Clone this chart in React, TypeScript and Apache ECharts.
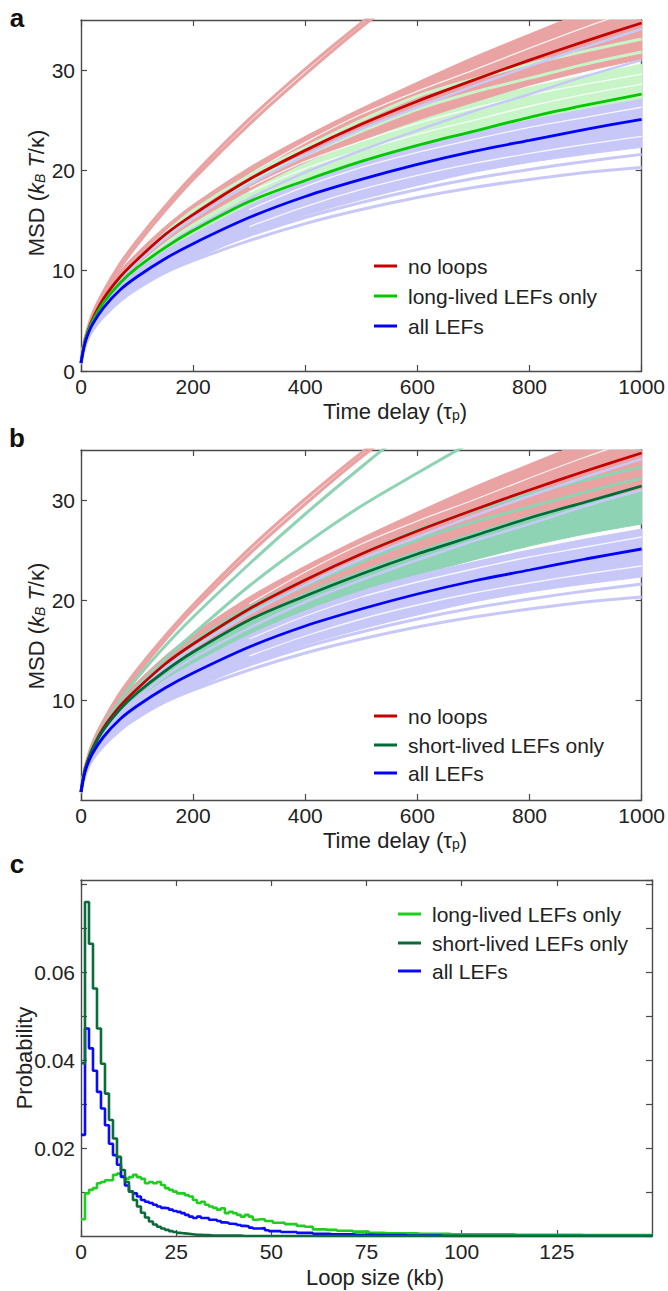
import React, { useEffect, useRef } from "react";
import * as echarts from "echarts";

// ---------- Panels a & b : MSD vs time delay ----------
const DELAY = [0, 5, 10, 20, 40, 70, 100, 150, 200, 300, 400, 500, 600, 700, 800, 900, 1000];

const NO_LOOPS_MEAN = [0.8, 2.5, 3.6, 5.1, 7.2, 9.4, 11.1, 13.6, 15.6, 19.1, 22.0, 24.6, 26.9, 29.0, 31.0, 32.9, 34.7];
const LONG_MEAN = [0.8, 2.4, 3.5, 4.9, 6.8, 8.8, 10.3, 12.3, 14.0, 16.9, 19.0, 20.9, 22.5, 23.9, 25.3, 26.5, 27.6];
const ALL_MEAN = [0.8, 2.3, 3.3, 4.6, 6.3, 8.1, 9.4, 11.2, 12.7, 15.3, 17.4, 19.1, 20.6, 21.9, 23.0, 24.1, 25.1];
const SHORT_MEAN = [0.8, 2.5, 3.5, 5.0, 7.0, 9.1, 10.7, 12.9, 14.8, 18.0, 20.4, 22.6, 24.6, 26.4, 28.2, 29.8, 31.4];

// ensemble envelopes (individual runs)
const NO_LOOPS_LOW = [0.8, 2.4, 3.4, 4.9, 6.9, 9.0, 10.6, 12.9, 14.8, 18.0, 20.8, 23.0, 25.0, 26.8, 28.5, 29.9, 31.1];
const NO_LOOPS_HIGH = [0.9, 2.7, 3.9, 5.5, 7.7, 10.0, 11.8, 14.4, 16.6, 20.3, 23.4, 26.2, 28.8, 31.3, 33.6, 35.8, 37.5];
const LONG_LOW = [0.8, 2.3, 3.3, 4.7, 6.5, 8.5, 9.9, 11.8, 13.3, 15.9, 18.0, 19.8, 21.2, 22.5, 23.6, 24.6, 25.5];
const LONG_HIGH = [0.9, 2.6, 3.7, 5.2, 7.2, 9.3, 11.0, 13.3, 15.3, 18.6, 21.5, 23.6, 25.5, 27.0, 28.3, 29.5, 30.6];
const ALL_LOW = [0.7, 2.1, 3.0, 4.1, 5.6, 7.1, 8.3, 9.9, 11.1, 13.5, 15.5, 17.1, 18.5, 19.8, 20.8, 21.6, 22.3];
const ALL_HIGH = [0.9, 2.5, 3.5, 4.8, 6.7, 8.6, 10.0, 12.0, 13.6, 16.5, 18.9, 20.9, 22.5, 23.8, 25.0, 26.1, 27.1];
const SHORT_LOW = [0.8, 2.4, 3.4, 4.8, 6.7, 8.6, 10.0, 12.0, 13.6, 16.4, 18.9, 20.8, 22.5, 24.0, 25.4, 26.6, 27.6];
const SHORT_HIGH = [0.9, 2.6, 3.7, 5.2, 7.3, 9.5, 11.2, 13.5, 15.5, 18.9, 21.7, 24.2, 26.4, 28.4, 30.3, 32.0, 33.4];

// white gaps between neighbouring runs inside the ensembles (late times)
const GAP_DELAY = [300, 400, 500, 600, 700, 800, 900, 1000];
const LONG_GAP1 = [17.8, 20.2, 22.0, 23.6, 25.0, 26.4, 27.6, 28.6];
const LONG_GAP2 = [18.3, 20.9, 22.9, 24.7, 26.2, 27.5, 28.6, 29.6];
const ALL_GAP1 = [14.4, 16.4, 18.1, 19.5, 20.7, 21.7, 22.6, 23.4];
const ALL_GAP2 = [16.1, 18.4, 20.3, 21.8, 23.1, 24.3, 25.3, 26.3];
const NO_LOOPS_GAP = [19.6, 22.8, 25.6, 27.9, 30.0, 32.2, 34.3, 36.2];

// outlying individual runs
const NO_LOOPS_RUN1 = [0.8, 2.6, 3.7, 5.4, 7.6, 10.3, 12.6, 16.0, 19.1, 24.6, 29.6, 34.3, 38.5, 42.5, 46.0, 50.0, 53.0];
const NO_LOOPS_RUN2 = [0.8, 2.7, 3.8, 5.6, 7.9, 10.7, 13.0, 16.4, 19.5, 25.1, 30.1, 34.7, 39.0, 43.0, 46.5, 50.5, 53.5];
const LONG_RUN1 = [0.8, 2.5, 3.5, 5.0, 7.0, 9.2, 10.9, 13.4, 15.6, 18.9, 21.5, 23.9, 26.1, 27.8, 29.2, 30.6, 31.8];
const LONG_RUN2 = [0.8, 2.5, 3.6, 5.1, 7.1, 9.4, 11.1, 13.7, 16.0, 19.5, 22.3, 25.0, 27.4, 29.1, 30.6, 31.9, 33.1];
const ALL_RUN_LOW1 = [0.7, 2.0, 2.9, 4.0, 5.4, 7.0, 8.2, 9.8, 11.0, 13.0, 14.7, 16.1, 17.3, 18.3, 19.1, 19.8, 20.3];
const ALL_RUN_LOW2 = [0.7, 2.1, 3.0, 4.1, 5.6, 7.2, 8.4, 10.1, 11.4, 13.5, 15.3, 16.8, 18.1, 19.2, 20.1, 20.9, 21.6];
const ALL_RUN_HIGH1 = [0.8, 2.5, 3.5, 5.0, 7.0, 9.1, 10.8, 13.2, 15.2, 18.6, 21.5, 24.1, 26.3, 28.4, 30.4, 32.3, 34.1];
const ALL_RUN_HIGH2 = [0.8, 2.4, 3.4, 4.8, 6.7, 8.7, 10.2, 12.4, 14.2, 17.2, 19.8, 22.0, 24.0, 25.9, 27.6, 29.4, 31.0];
const SHORT_RUN1 = [0.8, 2.6, 3.7, 5.3, 7.4, 10.0, 12.2, 15.4, 18.3, 23.6, 28.6, 33.3, 37.8, 42.0, 46.0, 50.0, 54.0];
const SHORT_RUN2 = [0.8, 2.5, 3.6, 5.1, 7.1, 9.4, 11.3, 14.1, 16.6, 21.4, 25.6, 29.4, 32.7, 35.9, 39.0, 42.0, 45.0];
const SHORT_RUN3 = [0.8, 2.5, 3.6, 5.1, 7.1, 9.3, 11.0, 13.5, 15.8, 19.3, 22.0, 24.6, 27.0, 28.9, 30.6, 32.0, 33.3];
const SHORT_RUN4 = [0.8, 2.5, 3.5, 5.0, 7.0, 9.2, 10.8, 13.2, 15.5, 18.8, 21.4, 23.8, 26.0, 27.8, 29.3, 30.8, 32.2];

// ---------- Panel c : loop size histograms ----------
const BIN_WIDTH_KB = 1.05;
const LONG_HIST = [
  0.0038, 0.0097, 0.0105, 0.0109, 0.0120, 0.0123, 0.0127, 0.0127, 0.0139, 0.0142,
  0.0134, 0.0130, 0.0134, 0.0139, 0.0134, 0.0130, 0.0120, 0.0123, 0.0120, 0.0123,
  0.0116, 0.0109, 0.0105, 0.0101, 0.0097, 0.0097, 0.0093, 0.0090, 0.0082, 0.0075,
  0.0078, 0.0071, 0.0067, 0.0064, 0.0060, 0.0063, 0.0052, 0.0055, 0.0052, 0.0048,
  0.0044, 0.0048, 0.0044, 0.0037, 0.0038, 0.0038, 0.0034, 0.0034, 0.0030, 0.0030,
  0.0030, 0.0027, 0.0027, 0.0027, 0.0023, 0.0023, 0.0021, 0.0021, 0.0015, 0.0015,
  0.0015, 0.0014, 0.0014, 0.0014, 0.0012, 0.0012, 0.0012, 0.0012, 0.0010, 0.0010,
  0.0010, 0.0010, 0.0007, 0.0007, 0.0007, 0.0007, 0.0006, 0.0006, 0.0006, 0.0006,
  0.0006, 0.0006, 0.0006, 0.0006, 0.0005, 0.0005, 0.0005, 0.0005, 0.0005, 0.0005,
  0.0005, 0.0005, 0.0004, 0.0004, 0.0004, 0.0004, 0.0004, 0.0004, 0.0004, 0.0004,
  0.0004, 0.0004, 0.0004, 0.0004, 0.0004, 0.0004, 0.0004, 0.0004, 0.0003, 0.0003,
  0.0003, 0.0003, 0.0003, 0.0003, 0.0003, 0.0003, 0.0003, 0.0003, 0.0003, 0.0003,
  0.0003, 0.0003, 0.0003, 0.0003, 0.0003, 0.0002, 0.0002, 0.0002, 0.0002, 0.0002,
  0.0002, 0.0002, 0.0002, 0.0002, 0.0002, 0.0002, 0.0002, 0.0002, 0.0002, 0.0002,
  0.0002, 0.0002, 0.0002,
];
const SHORT_HIST = [
  0.0393, 0.0760, 0.0665, 0.0563, 0.0472, 0.0392, 0.0324, 0.0264, 0.0222, 0.0180,
  0.0150, 0.0123, 0.0101, 0.0082, 0.0067, 0.0053, 0.0042, 0.0033, 0.0026, 0.0021,
  0.0017, 0.0014, 0.0011, 0.0009, 0.0007, 0.0006, 0.0005, 0.0004, 0.0003, 0.0003,
  0.0002, 0.0002, 0.0001, 0.0001, 0.0001, 0.0001, 0.0001, 0.0001, 0.0001, 0.0001,
  0, 0, 0, 0, 0, 0, 0, 0, 0, 0,
  0, 0, 0, 0, 0, 0, 0, 0, 0, 0,
  0, 0, 0, 0, 0, 0, 0, 0, 0, 0,
  0, 0, 0, 0, 0, 0, 0, 0, 0, 0,
  0, 0, 0, 0, 0, 0, 0, 0, 0, 0,
  0, 0, 0, 0, 0, 0, 0, 0, 0, 0,
  0, 0, 0, 0, 0, 0, 0, 0, 0, 0,
  0, 0, 0, 0, 0, 0, 0, 0, 0, 0,
  0, 0, 0, 0, 0, 0, 0, 0, 0, 0,
  0, 0, 0, 0, 0, 0, 0, 0, 0, 0,
  0, 0, 0,
];
const ALL_HIST = [
  0.0230, 0.0472, 0.0427, 0.0376, 0.0328, 0.0290, 0.0252, 0.0210, 0.0184, 0.0162,
  0.0135, 0.0115, 0.0101, 0.0097, 0.0090, 0.0082, 0.0078, 0.0075, 0.0071, 0.0067,
  0.0064, 0.0063, 0.0060, 0.0057, 0.0055, 0.0052, 0.0048, 0.0044, 0.0041, 0.0044,
  0.0041, 0.0041, 0.0037, 0.0037, 0.0034, 0.0031, 0.0030, 0.0028, 0.0027, 0.0025,
  0.0023, 0.0022, 0.0019, 0.0017, 0.0017, 0.0018, 0.0013, 0.0011, 0.0011, 0.0011,
  0.0009, 0.0009, 0.0009, 0.0009, 0.0007, 0.0007, 0.0007, 0.0007, 0.0005, 0.0005,
  0.0005, 0.0005, 0.0004, 0.0004, 0.0004, 0.0004, 0.0004, 0.0004, 0.0003, 0.0003,
  0.0003, 0.0003, 0.0003, 0.0002, 0.0002, 0.0002, 0.0002, 0.0002, 0.0002, 0.0002,
  0.0002, 0.0001, 0.0001, 0.0001, 0.0001, 0.0001, 0.0001, 0.0001, 0.0001, 0.0001,
  0, 0, 0, 0, 0, 0, 0, 0, 0, 0,
  0, 0, 0, 0, 0, 0, 0, 0, 0, 0,
  0, 0, 0, 0, 0, 0, 0, 0, 0, 0,
  0, 0, 0, 0, 0, 0, 0, 0, 0, 0,
  0, 0, 0, 0, 0, 0, 0, 0, 0, 0,
  0, 0, 0,
];

// ---------- styling ----------
const FONT = "'Liberation Sans', Arial, Helvetica, sans-serif";
const AXIS = "#4a4a4a";
const C_RED = "#c40000";
const C_GREEN = "#00c800";
const C_BLUE = "#0000ff";
const C_DKGREEN = "#006b38";
const C_RED_L = "#eaa3a3";
const C_GREEN_L = "#c8f5c8";
const C_BLUE_L = "#c8c8f8";
const C_TEAL_L = "#8ed3b3";
const H_GREEN = "#1fcc1f";
const H_DKGREEN = "#0b6b3a";
const H_BLUE = "#0a0aff";

function curve(g: number, xs: number[], ys: number[], color: string, width: number, z: number, opacity = 1) {
  return {
    type: "line",
    xAxisIndex: g * 2,
    yAxisIndex: g * 2,
    data: xs.map((x, i) => [x, ys[i]]),
    symbol: "none",
    smooth: 0.3,
    lineStyle: { color, width, opacity },
    z,
    silent: true,
    clip: true,
  };
}

// envelope of an ensemble of runs, drawn as a filled polygon in pixel space
function band(g: number, xs: number[], lo: number[], hi: number[], color: string, z: number) {
  return {
    type: "custom",
    xAxisIndex: g * 2,
    yAxisIndex: g * 2,
    z,
    silent: true,
    clip: true,
    data: [[xs[0], lo[0]]],
    renderItem: (_params: any, api: any) => {
      const up = xs.map((x, i) => api.coord([x, hi[i]]));
      const dn = xs.map((x, i) => api.coord([x, lo[i]]));
      const n = xs.length;
      // off-plot continuation points (clipped away) so the smoothing has no bump at the right edge
      const ext = (p: number[], q: number[]) => [p[0] + (p[0] - q[0]) * 0.6, p[1] + (p[1] - q[1]) * 0.6];
      const pts = up
        .concat([ext(up[n - 1], up[n - 2]), ext(dn[n - 1], dn[n - 2])])
        .concat(dn.slice().reverse());
      return {
        type: "polygon",
        shape: { points: pts, smooth: 0.3 },
        style: { fill: color, stroke: color, lineWidth: 1 },
      };
    },
  };
}

function hist(values: number[], color: string, z: number) {
  const data = values.map((v, k) => [k * BIN_WIDTH_KB, v]);
  data.push([values.length * BIN_WIDTH_KB, values[values.length - 1]]);
  return {
    type: "line",
    xAxisIndex: 4,
    yAxisIndex: 4,
    step: "end",
    data,
    symbol: "none",
    lineStyle: { color, width: 2.6 },
    z,
    silent: true,
    clip: true,
  };
}

function xAxes(g: number, min: number, max: number, interval: number, showMax: boolean) {
  const base = {
    gridIndex: g,
    type: "value",
    min,
    max,
    interval,
    splitLine: { show: false },
    axisLine: { show: true, onZero: false, lineStyle: { color: AXIS, width: 1.4 } },
    axisTick: { show: true, inside: true, length: 6, lineStyle: { color: AXIS, width: 1.2 } },
  };
  return [
    {
      ...base,
      position: "bottom",
      axisLabel: {
        show: true,
        fontSize: 21,
        color: "#222",
        fontFamily: FONT,
        margin: 5,
        showMaxLabel: showMax,
        formatter: (v: number) => String(v),
      },
    },
    { ...base, position: "top", axisLabel: { show: false } },
  ];
}

function yAxes(g: number, min: number, max: number, interval: number, formatter?: (v: number) => string, showMin = true) {
  const base = {
    gridIndex: g,
    type: "value",
    min,
    max,
    interval,
    splitLine: { show: false },
    axisLine: { show: true, onZero: false, lineStyle: { color: AXIS, width: 1.4 } },
    axisTick: { show: true, inside: true, length: 6, lineStyle: { color: AXIS, width: 1.2 } },
  };
  return [
    {
      ...base,
      position: "left",
      axisLabel: {
        show: true,
        fontSize: 21,
        color: "#222",
        fontFamily: FONT,
        margin: 6,
        showMaxLabel: false,
        showMinLabel: showMin,
        formatter: formatter || ((v: number) => String(v)),
      },
    },
    { ...base, position: "right", axisLabel: { show: false } },
  ];
}

function legend(x1: number, x2: number, tx: number, items: { y: number; color: string; label: string }[]) {
  const els: any[] = [];
  items.forEach((it) => {
    els.push({
      type: "line",
      shape: { x1, y1: it.y, x2, y2: it.y },
      style: { stroke: it.color, lineWidth: 3 },
      z: 100,
    });
    els.push({
      type: "text",
      x: tx,
      y: it.y,
      style: { text: it.label, fontSize: 21, fontFamily: FONT, fill: "#222", verticalAlign: "middle", align: "left" },
      z: 100,
    });
  });
  return els;
}

const RICH = {
  n: { fontSize: 22, fontFamily: FONT, fill: "#222", lineHeight: 22 },
  i: { fontSize: 22, fontFamily: FONT, fontStyle: "italic", fill: "#222", lineHeight: 22 },
  is: { fontSize: 14, fontFamily: FONT, fontStyle: "italic", fill: "#222", lineHeight: 22, verticalAlign: "bottom" },
  s: { fontSize: 14, fontFamily: FONT, fill: "#222", lineHeight: 22, verticalAlign: "bottom" },
};

function yTitle(x: number, y: number, text: string) {
  return {
    type: "text",
    x,
    y,
    rotation: Math.PI / 2,
    style: { text, rich: RICH, align: "center", verticalAlign: "middle" },
    z: 100,
  };
}

function xTitle(x: number, y: number, text: string) {
  return {
    type: "text",
    x,
    y,
    style: { text, rich: RICH, align: "center", verticalAlign: "middle" },
    z: 100,
  };
}

function panelLetter(x: number, y: number, t: string) {
  return {
    type: "text",
    x,
    y,
    style: { text: t, fontSize: 26, fontWeight: "bold", fontFamily: FONT, fill: "#111", align: "center", verticalAlign: "middle" },
    z: 100,
  };
}

export default function App() {
  const ref = useRef<HTMLDivElement>(null);

  useEffect(() => {
    if (!ref.current) return;
    const chart = echarts.init(ref.current, undefined, { renderer: "svg" });

    const series: any[] = [
      // panel a
      band(0, DELAY, LONG_LOW, LONG_HIGH, C_GREEN_L, 2),
      curve(0, GAP_DELAY, LONG_GAP1, "#ffffff", 1.3, 2, 0.85),
      curve(0, GAP_DELAY, LONG_GAP2, "#ffffff", 1.3, 2, 0.85),
      band(0, DELAY, ALL_LOW, ALL_HIGH, C_BLUE_L, 2),
      curve(0, GAP_DELAY, ALL_GAP1, "#ffffff", 1.3, 2, 0.85),
      curve(0, GAP_DELAY, ALL_GAP2, "#ffffff", 1.3, 2, 0.85),
      band(0, DELAY, NO_LOOPS_LOW, NO_LOOPS_HIGH, C_RED_L, 2),
      curve(0, GAP_DELAY, NO_LOOPS_GAP, "#ffffff", 1.3, 2, 0.85),
      curve(0, DELAY, NO_LOOPS_RUN1, C_RED_L, 3.2, 3),
      curve(0, DELAY, NO_LOOPS_RUN2, C_RED_L, 3.2, 3),
      curve(0, DELAY, LONG_RUN1, C_GREEN_L, 3, 3),
      curve(0, DELAY, LONG_RUN2, C_GREEN_L, 3, 3),
      curve(0, DELAY, ALL_RUN_LOW1, C_BLUE_L, 3, 3),
      curve(0, DELAY, ALL_RUN_LOW2, C_BLUE_L, 3, 3),
      curve(0, DELAY, ALL_RUN_HIGH1, C_BLUE_L, 2.5, 3),
      curve(0, DELAY, ALL_RUN_HIGH2, C_BLUE_L, 2.5, 3),
      curve(0, DELAY, NO_LOOPS_MEAN, C_RED, 2.8, 5),
      curve(0, DELAY, LONG_MEAN, C_GREEN, 2.8, 5),
      curve(0, DELAY, ALL_MEAN, C_BLUE, 2.8, 5),
      // panel b
      band(1, DELAY, SHORT_LOW, SHORT_HIGH, C_TEAL_L, 2),
      band(1, DELAY, ALL_LOW, ALL_HIGH, C_BLUE_L, 2),
      curve(1, GAP_DELAY, ALL_GAP1, "#ffffff", 1.3, 2, 0.85),
      curve(1, GAP_DELAY, ALL_GAP2, "#ffffff", 1.3, 2, 0.85),
      band(1, DELAY, NO_LOOPS_LOW, NO_LOOPS_HIGH, C_RED_L, 2),
      curve(1, GAP_DELAY, NO_LOOPS_GAP, "#ffffff", 1.3, 2, 0.85),
      curve(1, DELAY, NO_LOOPS_RUN1, C_RED_L, 3.2, 3),
      curve(1, DELAY, NO_LOOPS_RUN2, C_RED_L, 3.2, 3),
      curve(1, DELAY, SHORT_RUN1, C_TEAL_L, 3, 3),
      curve(1, DELAY, SHORT_RUN2, C_TEAL_L, 3, 3),
      curve(1, DELAY, SHORT_RUN3, C_TEAL_L, 3, 3),
      curve(1, DELAY, SHORT_RUN4, C_TEAL_L, 3, 3),
      curve(1, DELAY, ALL_RUN_LOW1, C_BLUE_L, 3, 3),
      curve(1, DELAY, ALL_RUN_LOW2, C_BLUE_L, 3, 3),
      curve(1, DELAY, ALL_RUN_HIGH1, C_BLUE_L, 2.5, 3),
      curve(1, DELAY, ALL_RUN_HIGH2, C_BLUE_L, 2.5, 3),
      curve(1, DELAY, NO_LOOPS_MEAN, C_RED, 2.8, 5),
      curve(1, DELAY, SHORT_MEAN, C_DKGREEN, 2.8, 5),
      curve(1, DELAY, ALL_MEAN, C_BLUE, 2.8, 5),
      // panel c
      hist(LONG_HIST, H_GREEN, 5),
      hist(ALL_HIST, H_BLUE, 6),
      hist(SHORT_HIST, H_DKGREEN, 7),
    ];

    const fmtC = (v: number) => {
      const r = Math.round(v * 100);
      return r === 2 || r === 4 || r === 6 ? v.toFixed(2) : "";
    };

    const option: any = {
      animation: false,
      backgroundColor: "#ffffff",
      textStyle: { fontFamily: FONT },
      grid: [
        { left: 81, top: 20, width: 571, height: 351 },
        { left: 81, top: 450, width: 571, height: 350 },
        { left: 81, top: 880, width: 571, height: 356 },
      ],
      xAxis: [
        ...xAxes(0, 0, 1000, 200, true),
        ...xAxes(1, 0, 1000, 200, true),
        ...xAxes(2, 0, 150, 25, false),
      ],
      yAxis: [
        ...yAxes(0, 0, 35, 10),
        ...yAxes(1, 0, 35, 10, undefined, false),
        ...yAxes(2, 0, 0.081, 0.01, fmtC, false),
      ],
      series,
      graphic: [
        panelLetter(17, 18, "a"),
        panelLetter(17, 438, "b"),
        panelLetter(17, 864, "c"),
        xTitle(395, 411, "{n|Time delay (τ}{s|p}{n|)}"),
        xTitle(395, 840, "{n|Time delay (τ}{s|p}{n|)}"),
        xTitle(375, 1277, "{n|Loop size (kb)}"),
        yTitle(36, 193, "{n|MSD (}{i|k}{is|B}{i| T}{n|/κ)}"),
        yTitle(36, 626, "{n|MSD (}{i|k}{is|B}{i| T}{n|/κ)}"),
        yTitle(24, 1058, "{n|Probability}"),
        ...legend(374, 397, 408, [
          { y: 266, color: C_RED, label: "no loops" },
          { y: 296, color: C_GREEN, label: "long-lived LEFs only" },
          { y: 326, color: C_BLUE, label: "all LEFs" },
        ]),
        ...legend(374, 397, 408, [
          { y: 716, color: C_RED, label: "no loops" },
          { y: 745, color: C_DKGREEN, label: "short-lived LEFs only" },
          { y: 773, color: C_BLUE, label: "all LEFs" },
        ]),
        ...legend(398, 421, 432, [
          { y: 914, color: H_GREEN, label: "long-lived LEFs only" },
          { y: 943, color: H_DKGREEN, label: "short-lived LEFs only" },
          { y: 971, color: H_BLUE, label: "all LEFs" },
        ]),
      ],
    };

    chart.setOption(option);
    return () => chart.dispose();
  }, []);

  return (
    <div
      ref={ref}
      style={{ position: "absolute", left: 0, top: 0, width: 668, height: 1291, background: "#fff" }}
    />
  );
}
